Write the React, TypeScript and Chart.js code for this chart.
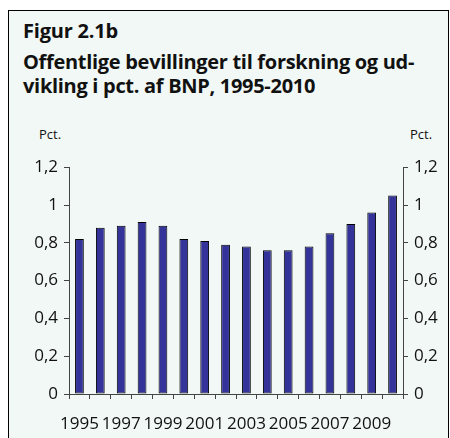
import React, { useEffect, useRef } from 'react';
import { Chart, registerables } from 'chart.js';

Chart.register(...registerables);

const years: string[] = ['1995', '1996', '1997', '1998', '1999', '2000', '2001', '2002', '2003', '2004', '2005', '2006', '2007', '2008', '2009', '2010'];
const values: number[] = [0.82, 0.88, 0.89, 0.91, 0.89, 0.82, 0.81, 0.79, 0.78, 0.76, 0.76, 0.78, 0.85, 0.90, 0.96, 1.05];
const yMin = 0;
const yMax = 1.2;
const yStep = 0.2;
const figureLabel = 'Figur 2.1b';
const titleLines: string[] = ['Offentlige bevillinger til forskning og ud-', 'vikling i pct. af BNP, 1995-2010'];
const unitLabel = 'Pct.';

const BG = '#f1f8f5';
const BAR = '#333399';
const AXIS = '#444444';
const TEXT = '#111111';
const FONT = '"Open Sans", "DejaVu Sans", sans-serif';

const fmt = (v: number) => String(Math.round(v * 10) / 10).replace('.', ',');

export default function App() {
  const ref = useRef<HTMLCanvasElement | null>(null);

  useEffect(() => {
    if (!ref.current) return;
    const yAxis = (position: 'left' | 'right', width: number) => ({
      type: 'linear' as const,
      position,
      min: yMin,
      max: yMax,
      afterFit: (s: any) => { s.width = width; },
      ticks: {
        stepSize: yStep,
        color: TEXT,
        padding: 6,
        font: { family: FONT, size: 17 },
        callback: (v: any) => fmt(Number(v)),
      },
      grid: { display: true, drawOnChartArea: false, drawTicks: true, tickLength: 5, color: AXIS },
      border: { display: true, color: AXIS, width: 1 },
    });
    const chart = new Chart(ref.current, {
      type: 'bar',
      data: {
        labels: years,
        datasets: [{
          data: values,
          backgroundColor: BAR,
          borderColor: '#000000',
          borderWidth: 1,
          borderSkipped: false,
          categoryPercentage: 1,
          barPercentage: 0.42,
          yAxisID: 'y',
        }],
      },
      options: {
        responsive: false,
        animation: false,
        devicePixelRatio: 1,
        layout: { padding: { top: 12, left: 0, right: 0, bottom: 0 } },
        plugins: { legend: { display: false }, tooltip: { enabled: false }, title: { display: false } },
        scales: {
          x: {
            type: 'category',
            offset: true,
            afterFit: (s: any) => { s.height = 44; },
            ticks: {
              autoSkip: false,
              maxRotation: 0,
              minRotation: 0,
              color: TEXT,
              padding: 15,
              font: { family: FONT, size: 17 },
              callback: (_v: any, i: number) => (i % 2 === 0 ? years[i] : ''),
            },
            grid: { display: true, offset: true, drawOnChartArea: false, drawTicks: true, tickLength: 5, color: AXIS },
            border: { display: true, color: AXIS, width: 1 },
          },
          y: yAxis('left', 60),
          y2: yAxis('right', 45),
        },
      },
    });
    return () => chart.destroy();
  }, []);

  const titleFont = `700 20px "Open Sans", sans-serif`;

  return (
    <div
      style={{
        position: 'fixed',
        left: 8,
        top: 10,
        width: 439,
        height: 440,
        border: '1px solid #000',
        background: BG,
        overflow: 'hidden',
        boxSizing: 'content-box',
      }}
    >
      <div style={{ position: 'absolute', left: 14, top: 8, font: titleFont, color: TEXT, lineHeight: '24px', whiteSpace: 'nowrap', letterSpacing: '-0.2px' }}>
        {figureLabel}
      </div>
      <div style={{ position: 'absolute', left: 14, top: 39, font: titleFont, color: TEXT, lineHeight: '24px', whiteSpace: 'nowrap', letterSpacing: '-0.3px' }}>
        <div>{titleLines[0]}</div>
        <div>{titleLines[1]}</div>
      </div>
      <div style={{ position: 'absolute', left: 30, top: 114, font: `13px ${FONT}`, color: TEXT }}>{unitLabel}</div>
      <div style={{ position: 'absolute', left: 401, top: 114, font: `13px ${FONT}`, color: TEXT }}>{unitLabel}</div>
      <canvas ref={ref} width={439} height={287} style={{ position: 'absolute', left: 0, top: 140, display: 'block' }} />
    </div>
  );
}
